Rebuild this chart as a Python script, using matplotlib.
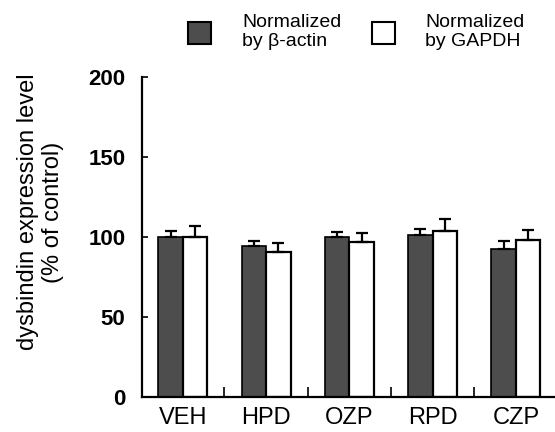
import matplotlib.pyplot as plt
from matplotlib.patches import Rectangle
import numpy as np

plt.rcParams['font.family'] = ['Liberation Sans', 'DejaVu Sans']

groups = ['VEH', 'HPD', 'OZP', 'RPD', 'CZP']
actin = [100, 94.5, 100, 101, 92.5]
actin_err = [4, 3, 3, 4, 5]
gapdh = [100, 90.5, 97, 104, 98]
gapdh_err = [7, 5.5, 5.5, 7.5, 6.5]
legend_labels = ['Normalized\nby \u03b2-actin', 'Normalized\nby GAPDH']
dark = '#4d4d4d'

fig = plt.figure(figsize=(5.55, 4.32), dpi=100)
ax = fig.add_axes([142/555, 35/432, 413/555, 320/432])

x = np.arange(len(groups))
w = 0.295
ekw = dict(elinewidth=1.6, capthick=1.6, ecolor='black')
b1 = ax.bar(x - w/2, actin, w, color=dark, edgecolor='black', linewidth=1.2,
            yerr=[np.zeros(len(actin)), actin_err], capsize=4, error_kw=ekw, zorder=2)
b2 = ax.bar(x + w/2, gapdh, w, color='white', edgecolor='black', linewidth=1.6,
            yerr=[np.zeros(len(gapdh)), gapdh_err], capsize=4, error_kw=ekw, zorder=2)

ax.set_xlim(-0.49, 4.47)
ax.set_ylim(0, 200)
ax.set_yticks([0, 50, 100, 150, 200])
ax.set_xticks(x)
ax.set_xticklabels(groups)
ax.set_xticks(x[:-1] + 0.5, minor=True)
ax.tick_params(axis='x', which='major', length=0, pad=7, labelsize=17)
ax.tick_params(axis='x', which='minor', direction='in', length=7, width=1.2)
ax.tick_params(axis='y', direction='in', length=4, width=1.2, labelsize=16, pad=12)
for lab in ax.get_yticklabels():
    lab.set_fontweight('bold')
for s in ['top', 'right']:
    ax.spines[s].set_visible(False)
ax.spines['left'].set_linewidth(1.6)
ax.spines['bottom'].set_linewidth(1.6)

fig.text(28/555, 1 - 212/432, 'dysbindin expression level', rotation=90,
         ha='center', va='center', fontsize=17)
fig.text(53/555, 1 - 212/432, '(% of control)', rotation=90,
         ha='center', va='center', fontsize=17)

# legend drawn by hand to match placement
for (sx, tx), fc, lab in zip([(188, 242), (372, 425)], [dark, 'white'], legend_labels):
    fig.add_artist(Rectangle((sx/555, 1 - 44/432), 23/555, 22/432, transform=fig.transFigure,
                             facecolor=fc, edgecolor='black', linewidth=1.5))
    fig.text(tx/555, 1 - 32/432, lab, ha='left', va='center', fontsize=14,
             linespacing=1.15)

fig.savefig('out.png', dpi=100)
